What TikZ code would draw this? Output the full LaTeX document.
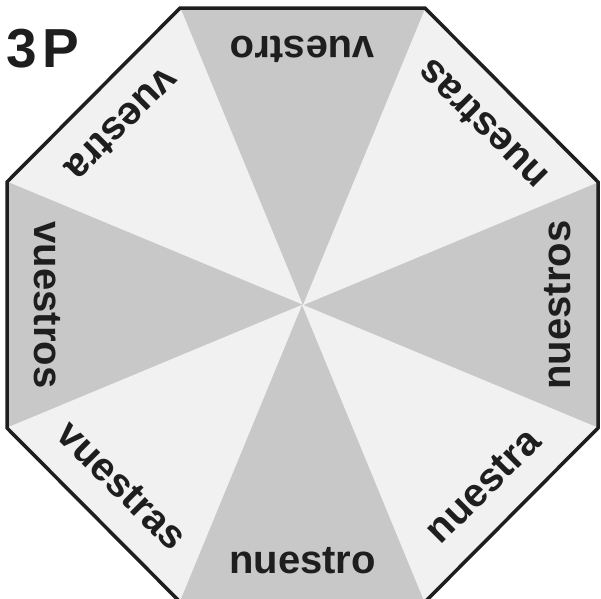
\documentclass[tikz,border=0pt]{standalone}
\usepackage{fontspec}
\setmainfont{Liberation Sans}
\definecolor{darksec}{HTML}{C8C8C8}
\definecolor{lightsec}{HTML}{F1F1F1}
\definecolor{ink}{HTML}{1E1E1E}
\begin{document}
\begin{tikzpicture}[x=1pt,y=1pt,
  lbl/.style={font=\fontsize{40}{40}\selectfont\bfseries, text=ink, anchor=base, inner sep=0pt},
  dsec/.style={fill=darksec, draw=darksec, line width=0.6pt, line join=round},
  lsec/.style={fill=lightsec, draw=lightsec, line width=0.6pt, line join=round},
  rim/.style={draw=ink, line width=3.5pt, line join=miter}]
\useasboundingbox (0,0) rectangle (601,598);
\clip (0,0) rectangle (601,598);
\coordinate (c) at (302.5,293);
\foreach \k in {0,...,7}
  \coordinate (v\k) at ([shift={(c)}]{22.5+45*\k}:319.85 and 321.47);
% sectors
\path[dsec] (c) -- (v7) -- (v0) -- cycle;
\path[lsec] (c) -- (v0) -- (v1) -- cycle;
\path[dsec] (c) -- (v1) -- (v2) -- cycle;
\path[lsec] (c) -- (v2) -- (v3) -- cycle;
\path[dsec] (c) -- (v3) -- (v4) -- cycle;
\path[lsec] (c) -- (v4) -- (v5) -- cycle;
\path[dsec] (c) -- (v5) -- (v6) -- cycle;
\path[lsec] (c) -- (v6) -- (v7) -- cycle;
% rim
\path[rim] (v0) -- (v1) -- (v2) -- (v3) -- (v4) -- (v5) -- (v6) -- (v7) -- cycle;
% labels
\node[lbl, rotate=0]   (nuestro)  at ([shift={(c)}]-90:268) {nuestro};
\node[lbl, rotate=45]  (nuestra)  at ([shift={(c)}]-45:268) {nuestra};
\node[lbl, rotate=90]  (nuestros) at ([shift={(c)}]0:268)   {nuestros};
\node[lbl, rotate=135] (nuestras) at ([shift={(c)}]45:268)  {nuestras};
\node[lbl, rotate=180] (vuestro)  at ([shift={(c)}]90:268)  {vuestro};
\node[lbl, rotate=225] (vuestra)  at ([shift={(c)}]135:268) {vuestra};
\node[lbl, rotate=270] (vuestros) at ([shift={(c)}]180:268) {vuestros};
\node[lbl, rotate=315] (vuestras) at ([shift={(c)}]225:268) {vuestras};
% title
\node[font=\fontsize{55}{55}\selectfont\bfseries, text=ink, anchor=base west, inner sep=0pt] (title) at (6,530) {3\hspace{6pt}P};
\end{tikzpicture}
\end{document}
